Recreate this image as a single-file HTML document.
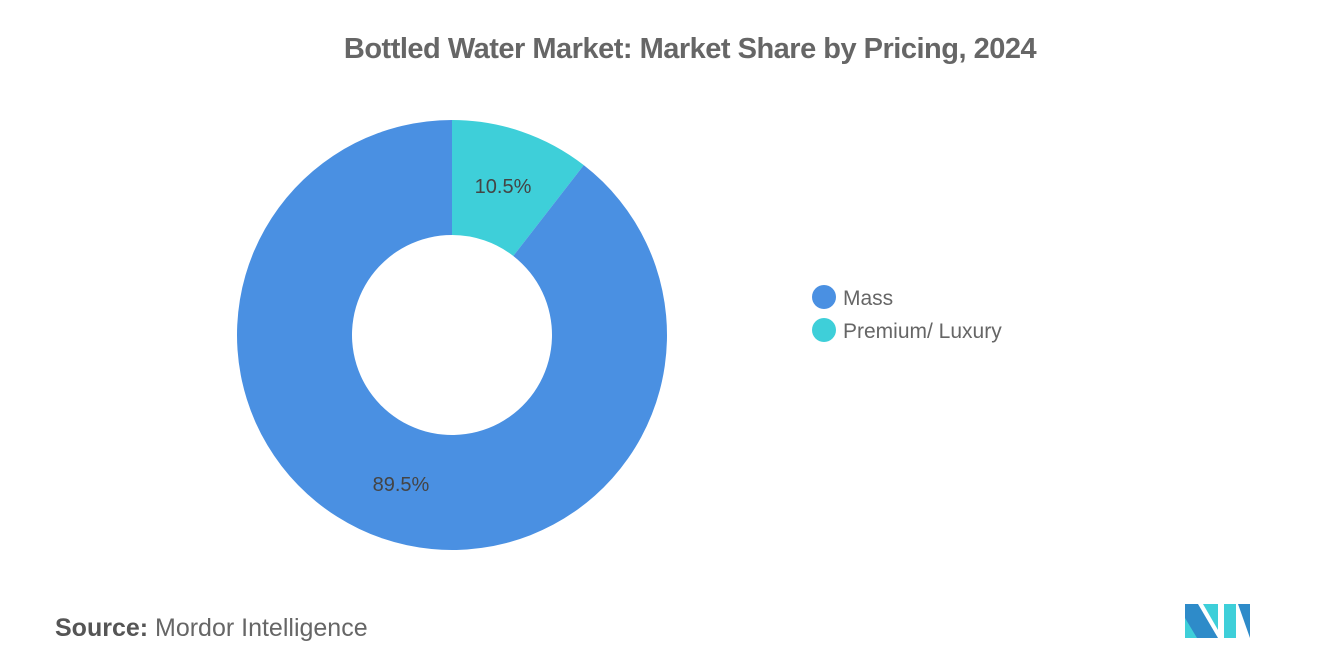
<!DOCTYPE html>
<html><head><meta charset="utf-8">
<style>
body{margin:0;width:1320px;height:665px;background:#fff;font-family:"Liberation Sans",sans-serif;overflow:hidden}
svg text{font-family:"Liberation Sans",sans-serif}
</style></head><body>
<svg width="1320" height="665">
<text x="690" y="58" text-anchor="middle" font-size="29" font-weight="bold" fill="#666" letter-spacing="-0.5">Bottled Water Market: Market Share by Pricing, 2024</text>
<g id="donut"></g>
<g>
<g><circle cx="824" cy="297" r="12" fill="#4a90e2"/><text x="843" y="305" font-size="21" fill="#666">Mass</text></g>
<g><circle cx="824" cy="330" r="12" fill="#3ecfd9"/><text x="843" y="338" font-size="21" fill="#666">Premium/ Luxury</text></g>
</g>
<text x="55" y="636" font-size="25" font-weight="bold" fill="#555">Source:</text>
<text x="155" y="636" font-size="25" fill="#666">Mordor Intelligence</text>
<g>
<polygon points="1185,604 1198,604 1218,638 1185,638" fill="#2e8bc9"/>
<polygon points="1185,618 1197,638 1185,638" fill="#3ecfd9"/>
<polygon points="1203,604 1218,604 1218,630" fill="#3ecfd9"/>
<polygon points="1224,604 1236,604 1236,638 1224,638" fill="#3ecfd9"/>
<polygon points="1238,604 1250,604 1250,638" fill="#2e8bc9"/>
</g>
</svg>
<script>
const categories=["Premium/ Luxury","Mass"];
const values=[10.5,89.5];
const labels=["10.5%","89.5%"];
const colors=["#3ecfd9","#4a90e2"];
const cx=452,cy=335,R=215,r=100;
const g=document.getElementById('donut');
const ns="http://www.w3.org/2000/svg";
const total=values.reduce((a,b)=>a+b,0);
let a0=0;
function pt(rad,a){return [cx+rad*Math.sin(a),cy-rad*Math.cos(a)];}
values.forEach((v,i)=>{
 const a1=a0+v/total*2*Math.PI;
 const large=(a1-a0)>Math.PI?1:0;
 const p1=pt(R,a0),p2=pt(R,a1),p3=pt(r,a1),p4=pt(r,a0);
 const p=document.createElementNS(ns,'path');
 p.setAttribute('d',`M${p1} A${R},${R} 0 ${large} 1 ${p2} L${p3} A${r},${r} 0 ${large} 0 ${p4} Z`);
 p.setAttribute('fill',colors[i]);
 
 
 g.appendChild(p);
 const am=(a0+a1)/2;const lp=pt((R+r)/2,am);
 const t=document.createElementNS(ns,'text');
 t.setAttribute('x',lp[0]);t.setAttribute('y',lp[1]+7);
 t.setAttribute('text-anchor','middle');t.setAttribute('font-size','20');t.setAttribute('fill','#444');
 
 
 t.textContent=labels[i];
 g.appendChild(t);
 a0=a1;
});
</script>
</body></html>
